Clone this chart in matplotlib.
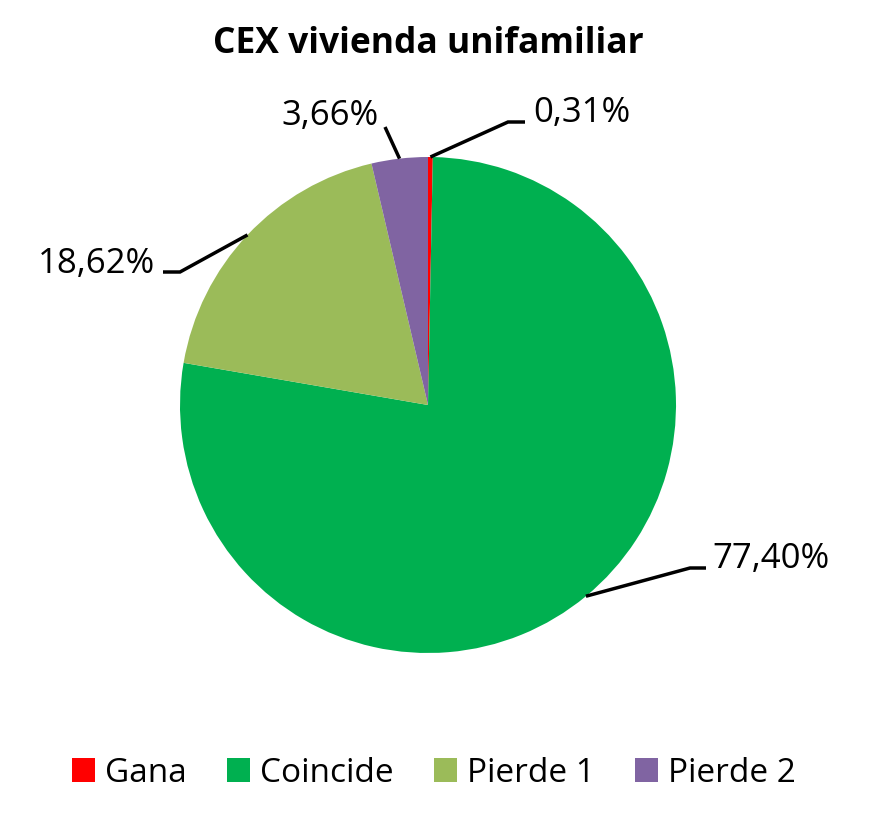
import numpy as np
import matplotlib.pyplot as plt

categories = ["Gana", "Coincide", "Pierde 1", "Pierde 2"]
values = [0.31, 77.40, 18.62, 3.66]
value_labels = ["0,31%", "77,40%", "18,62%", "3,66%"]
colors = ["#FF0000", "#00B050", "#9BBB59", "#8064A2"]

plt.rcParams['font.family'] = ['Open Sans', 'DejaVu Sans']

W, H = 895, 833
fig = plt.figure(figsize=(W / 100, H / 100), dpi=100)
ax = fig.add_axes([0, 0, 1, 1])

cx, cy, r = 428, H - 405, 248
wedges, _ = ax.pie(values, colors=colors, startangle=90, counterclock=False,
                   center=(cx, cy), radius=r, frame=True)
ax.set_xlim(0, W)
ax.set_ylim(0, H)
ax.set_aspect('equal')
ax.axis('off')

# leader layout: elbow point, end of horizontal tail, text anchor (pixels from top)
layout = [
    dict(elbow=(508, 122), tail=525, text=(533, 122), ha='left'),
    dict(elbow=(690, 568), tail=706, text=(712, 568), ha='left'),
    dict(elbow=(180, 272), tail=163, text=(155, 273), ha='right'),
    dict(elbow=(385, 127), tail=385, text=(379, 125), ha='right'),
]

for w, lab, lay in zip(wedges, value_labels, layout):
    ang = np.deg2rad((w.theta1 + w.theta2) / 2)
    x0 = cx + r * np.cos(ang)
    y0 = cy + r * np.sin(ang)
    ex, ey = lay['elbow']
    ax.plot([x0, ex, lay['tail']], [y0, H - ey, H - ey], color='black',
            lw=2.5, solid_capstyle='butt', solid_joinstyle='miter')
    tx, ty = lay['text']
    ax.text(tx, H - ty, lab, ha=lay['ha'], va='baseline', fontsize=25)

ax.text(428, H - 53, "CEX vivienda unifamiliar", ha='center', va='baseline',
        fontsize=25.5, fontweight='bold')

ax.legend(wedges, categories, loc='center', bbox_to_anchor=(434, H - 773),
          bbox_transform=ax.transData, ncol=4, frameon=False, fontsize=24,
          handlelength=0.7, handleheight=0.7, handletextpad=0.3,
          columnspacing=1.2)

fig.savefig("out.png", dpi=100)
